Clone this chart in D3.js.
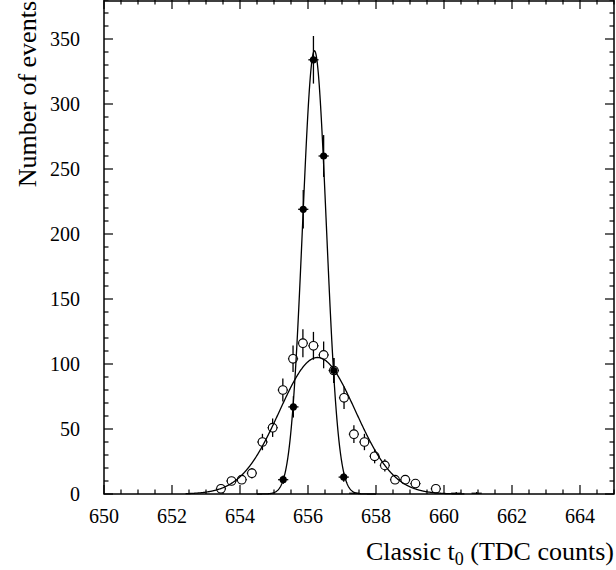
<!DOCTYPE html>
<html>
<head>
<meta charset="utf-8">
<script src="https://cdn.jsdelivr.net/npm/d3@7"></script>
<style>
  body { margin: 0; background: #fff; }
  svg { display: block; }
  text { font-family: "Liberation Serif", "Times New Roman", serif; fill: #000; }
</style>
</head>
<body>
<svg id="chart" width="616" height="570"></svg>
<script>
// ---- data ----
const xTickLabels = [650, 652, 654, 656, 658, 660, 662, 664];
const yTickLabels = [0, 50, 100, 150, 200, 250, 300, 350];

// open circles
const openX   = [653.44, 653.75, 654.05, 654.35, 654.66, 654.96, 655.26, 655.56, 655.85, 656.16, 656.46, 656.76, 657.06, 657.35, 657.66, 657.96, 658.26, 658.56, 658.86, 659.16, 659.76];
const openY   = [4, 10, 11, 16, 40, 51, 80, 104, 116, 114, 107, 95, 74, 46, 40, 29, 22, 11, 11, 8, 4];
const openErr = [2, 3.2, 3.3, 4, 6.3, 7.1, 8.9, 10.2, 10.8, 10.7, 10.3, 9.7, 8.6, 6.8, 6.3, 5.4, 4.7, 3.3, 3.3, 2.8, 2];

// filled circles
const fillX   = [655.27, 655.57, 655.86, 656.16, 656.46, 656.76, 657.05];
const fillY   = [11, 67, 219, 334, 260, 95, 13];
const fillErr = [3.3, 8.2, 14.8, 18.3, 16.1, 9.7, 3.6];

// near-empty bins (drawn as bare error crosses)
const emptyX   = [657.36, 660.36, 660.96];
const emptyY   = [0.6, 0.6, 0.6];
const emptyErr = [1, 1, 1];

// Gaussian fits: [amplitude, mean, sigma, from, to]
const fillFit = [341, 656.19, 0.35, 654.5, 658.0];
const openFit = [105, 656.28, 1.12, 652.4, 660.6];

const binHalf = 0.15;

// ---- drawing ----
const svg = d3.select("#chart");
svg.append("rect").attr("width", 616).attr("height", 570).attr("fill", "#fff");

const x = d3.scaleLinear().domain([650, 665]).range([104, 614]);
const y = d3.scaleLinear().domain([0, 380]).range([494, 0]);

const g = svg.append("g");

// ticks
const xMinor = d3.range(650, 665.001, 0.5);
const yMinor = d3.range(0, 380.001, 10);
const tickG = g.append("g").attr("stroke", "#000").attr("stroke-width", 1.2);
xMinor.forEach(v => {
  const major = xTickLabels.includes(v);
  const L = major ? 9 : 4.5;
  tickG.append("line").attr("x1", x(v)).attr("x2", x(v)).attr("y1", y(0)).attr("y2", y(0) - L);
  tickG.append("line").attr("x1", x(v)).attr("x2", x(v)).attr("y1", y(380)).attr("y2", y(380) + L);
});
yMinor.forEach(v => {
  const major = v % 50 === 0;
  const L = major ? 9 : 4.5;
  tickG.append("line").attr("x1", x(650)).attr("x2", x(650) + L).attr("y1", y(v)).attr("y2", y(v));
  tickG.append("line").attr("x1", x(665)).attr("x2", x(665) - L).attr("y1", y(v)).attr("y2", y(v));
});

// frame
g.append("rect")
  .attr("x", x(650)).attr("y", y(380) + 1)
  .attr("width", x(665) - x(650)).attr("height", y(0) - y(380) - 1)
  .attr("fill", "none").attr("stroke", "#000").attr("stroke-width", 1.5);

// tick labels
xTickLabels.forEach(v => {
  g.append("text").attr("x", x(v)).attr("y", 523)
    .attr("text-anchor", "middle").attr("font-size", 20).text(v);
});
yTickLabels.forEach(v => {
  g.append("text").attr("x", 80).attr("y", y(v) + 7)
    .attr("text-anchor", "end").attr("font-size", 20).text(v);
});

// axis titles
const xt = g.append("text").attr("x", 614).attr("y", 560)
  .attr("text-anchor", "end").attr("font-size", 26);
xt.append("tspan").text("Classic t");
xt.append("tspan").attr("font-size", 18).attr("dy", 5).text("0");
xt.append("tspan").attr("dy", -5).text(" (TDC counts)");

g.append("text")
  .attr("transform", "translate(36,1) rotate(-90)")
  .attr("text-anchor", "end").attr("font-size", 26)
  .text("Number of events");

// error bars helper
function errBars(xs, ys, es, sw) {
  const eg = g.append("g").attr("stroke", "#000").attr("stroke-width", sw);
  xs.forEach((xv, i) => {
    eg.append("line").attr("x1", x(xv)).attr("x2", x(xv))
      .attr("y1", y(Math.max(0, ys[i] - es[i]))).attr("y2", y(ys[i] + es[i]));
    eg.append("line").attr("x1", x(xv - binHalf)).attr("x2", x(xv + binHalf))
      .attr("y1", y(ys[i])).attr("y2", y(ys[i]));
  });
}

errBars(emptyX, emptyY, emptyErr, 1.2);
errBars(openX, openY, openErr, 1.3);
errBars(fillX, fillY, fillErr, 1.3);

// open markers
g.append("g").selectAll("circle").data(openX).join("circle")
  .attr("cx", d => x(d)).attr("cy", (d, i) => y(openY[i])).attr("r", 4.3)
  .attr("fill", "#fff").attr("stroke", "#000").attr("stroke-width", 1.1);

// filled markers
g.append("g").selectAll("circle").data(fillX).join("circle")
  .attr("cx", d => x(d)).attr("cy", (d, i) => y(fillY[i])).attr("r", 3.6)
  .attr("fill", "#000");

// fit curves
function gaussLine(p) {
  const [A, m, s, a, b] = p;
  const xs = d3.range(a, b + 1e-9, 0.01);
  const line = d3.line().x(v => x(v)).y(v => y(A * Math.exp(-((v - m) ** 2) / (2 * s * s))));
  g.append("path").attr("d", line(xs)).attr("fill", "none")
    .attr("stroke", "#000").attr("stroke-width", 1.3);
}
gaussLine(openFit);
gaussLine(fillFit);
</script>
</body>
</html>
